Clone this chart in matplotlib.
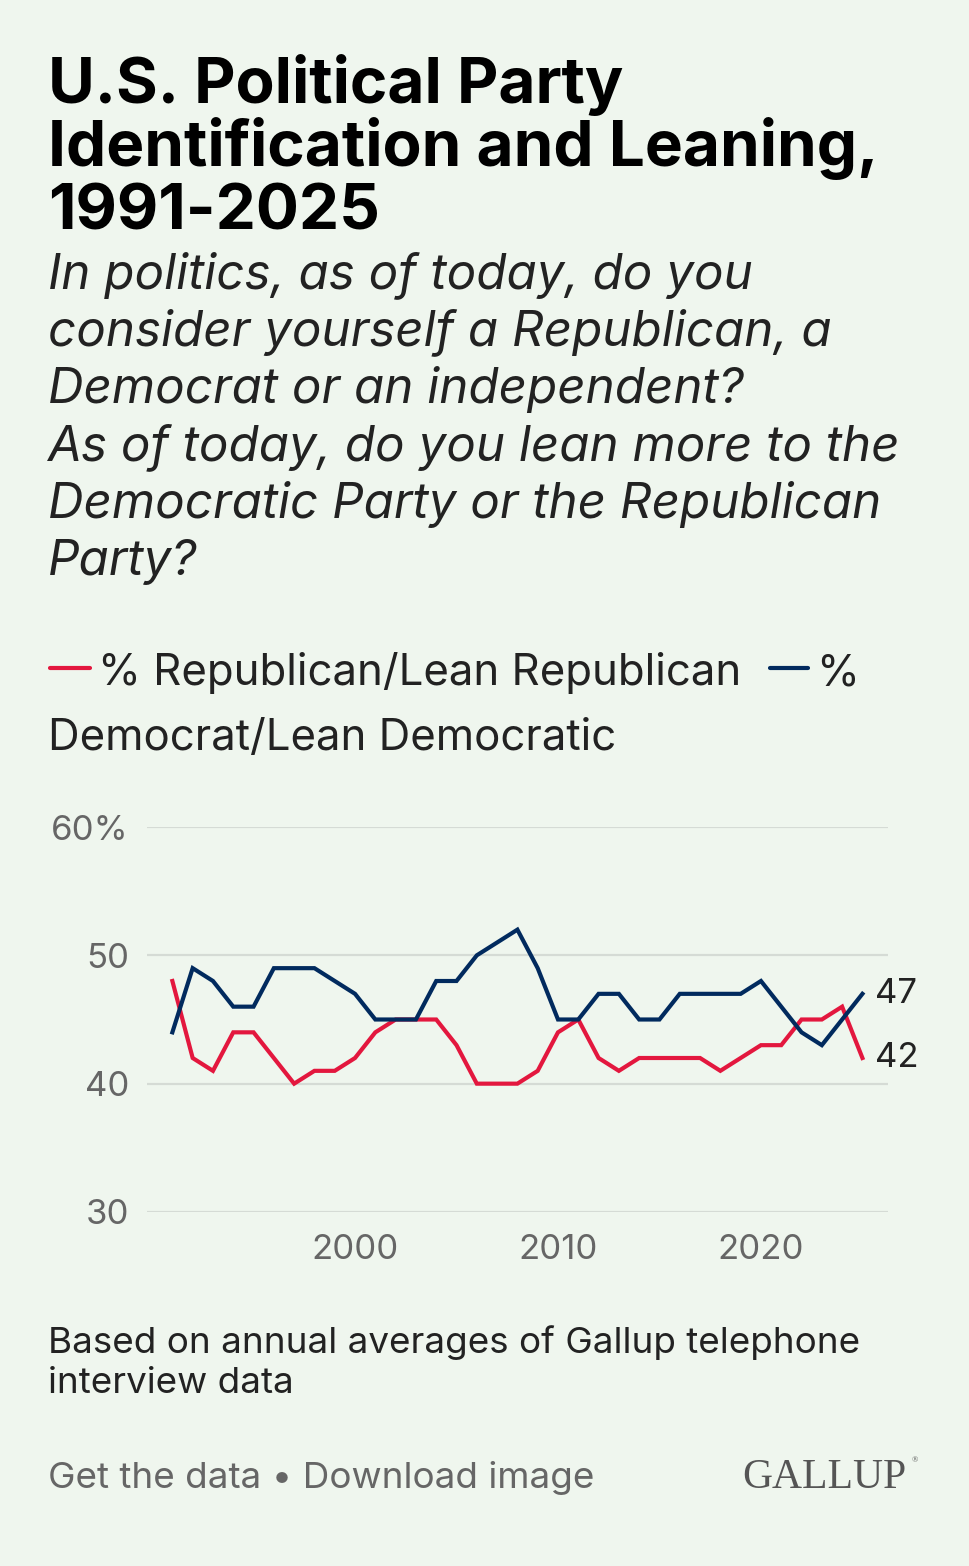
import numpy as np
import matplotlib.pyplot as plt

# Datos (promedios anuales, %)
anios = list(range(1991, 2026))
republicanos = [48, 42, 41, 44, 44, 42, 40, 41, 41, 42,
                44, 45, 45, 45, 43, 40, 40, 40, 41, 44,
                45, 42, 41, 42, 42, 42, 42, 41, 42, 43,
                43, 45, 45, 46, 42]
democratas = [44, 49, 48, 46, 46, 49, 49, 49, 48, 47,
              45, 45, 45, 48, 48, 50, 51, 52, 49, 45,
              45, 47, 47, 45, 45, 47, 47, 47, 47, 48,
              46, 44, 43, 45, 47]
ticks_y = [30, 40, 50, 60]
etiquetas_y = ['30', '40', '50', '60%']
ticks_x = [2000, 2010, 2020]

FONDO = '#EFF6EE'
ROJO = '#E3173E'
AZUL = '#012A5E'
GRIS = '#666666'
OSCURO = '#222222'

plt.rcParams['font.family'] = ['Inter', 'DejaVu Sans']

W, H = 970, 1566
fig = plt.figure(figsize=(W / 100, H / 100), dpi=100, facecolor=FONDO)

def px(x, y):
  return x / W, 1 - y / H

# Titulo
for i, linea in enumerate(['U.S. Political Party', 'Identification and Leaning,', '1991-2025']):
  fig.text(*px(48, 103 + i * 63), linea, fontsize=46, fontweight='bold', color='black', va='baseline')

# Pregunta
pregunta = ['In politics, as of today, do you',
            'consider yourself a Republican, a',
            'Democrat or an independent?',
            'As of today, do you lean more to the',
            'Democratic Party or the Republican',
            'Party?']
for i, linea in enumerate(pregunta):
  fig.text(*px(48, 288 + i * 57.5), linea, fontsize=35.5, style='italic', color=OSCURO, va='baseline')

# Leyenda
fig.add_artist(plt.Line2D([50 / W, 90 / W], [1 - 668 / H] * 2, color=ROJO, lw=3, solid_capstyle='round'))
fig.text(*px(98, 685), '% Republican/Lean Republican', fontsize=31.5, color=OSCURO, va='baseline')
fig.add_artist(plt.Line2D([770 / W, 808 / W], [1 - 668 / H] * 2, color=AZUL, lw=3, solid_capstyle='round'))
fig.text(*px(816, 685), '%', fontsize=31.5, color=OSCURO, va='baseline')
fig.text(*px(48, 750), 'Democrat/Lean Democratic', fontsize=31.5, color=OSCURO, va='baseline')

# Grafico
ax = fig.add_axes([147 / W, 354 / H, (888 - 147) / W, (1212 - 827) / H])
ax.set_facecolor(FONDO)
ax.plot(anios, republicanos, color=ROJO, lw=3, solid_joinstyle='miter', clip_on=False)
ax.plot(anios, democratas, color=AZUL, lw=3, solid_joinstyle='miter', clip_on=False)
ax.set_xlim(1989.75, 2026.26)
ax.set_ylim(30, 60)
ax.set_yticks(ticks_y)
ax.set_yticklabels(etiquetas_y)
ax.set_xticks(ticks_x)
ax.grid(axis='y', color='#D5DBD5', lw=1.6)
ax.set_axisbelow(True)
for s in ax.spines.values():
  s.set_visible(False)
ax.tick_params(length=0, labelsize=25, colors=GRIS)
ax.tick_params(axis='y', pad=13)
ax.tick_params(axis='x', pad=16)

ax.annotate(str(democratas[-1]), (anios[-1], democratas[-1]), xytext=(9, 0), textcoords='offset points',
            fontsize=25, color=OSCURO, va='center', annotation_clip=False)
ax.annotate(str(republicanos[-1]), (anios[-1], republicanos[-1]), xytext=(9, 0), textcoords='offset points',
            fontsize=25, color=OSCURO, va='center', annotation_clip=False)

# Pie
fig.text(*px(48, 1353), 'Based on annual averages of Gallup telephone', fontsize=26.5, color=OSCURO, va='baseline')
fig.text(*px(48, 1393), 'interview data', fontsize=26.5, color=OSCURO, va='baseline')
fig.text(*px(48, 1488), 'Get the data \u2022 Download image', fontsize=26.5, color=GRIS, va='baseline')
fig.text(*px(742, 1488), 'GALLUP', fontsize=30, color='#555555', va='baseline',
         family=['Liberation Serif', 'DejaVu Serif'])
fig.text(*px(912, 1462), '\u00ae', fontsize=6, color='#555555', va='baseline',
         family=['Liberation Serif', 'DejaVu Serif'])

fig.savefig('out.png', dpi=100, facecolor=FONDO)
